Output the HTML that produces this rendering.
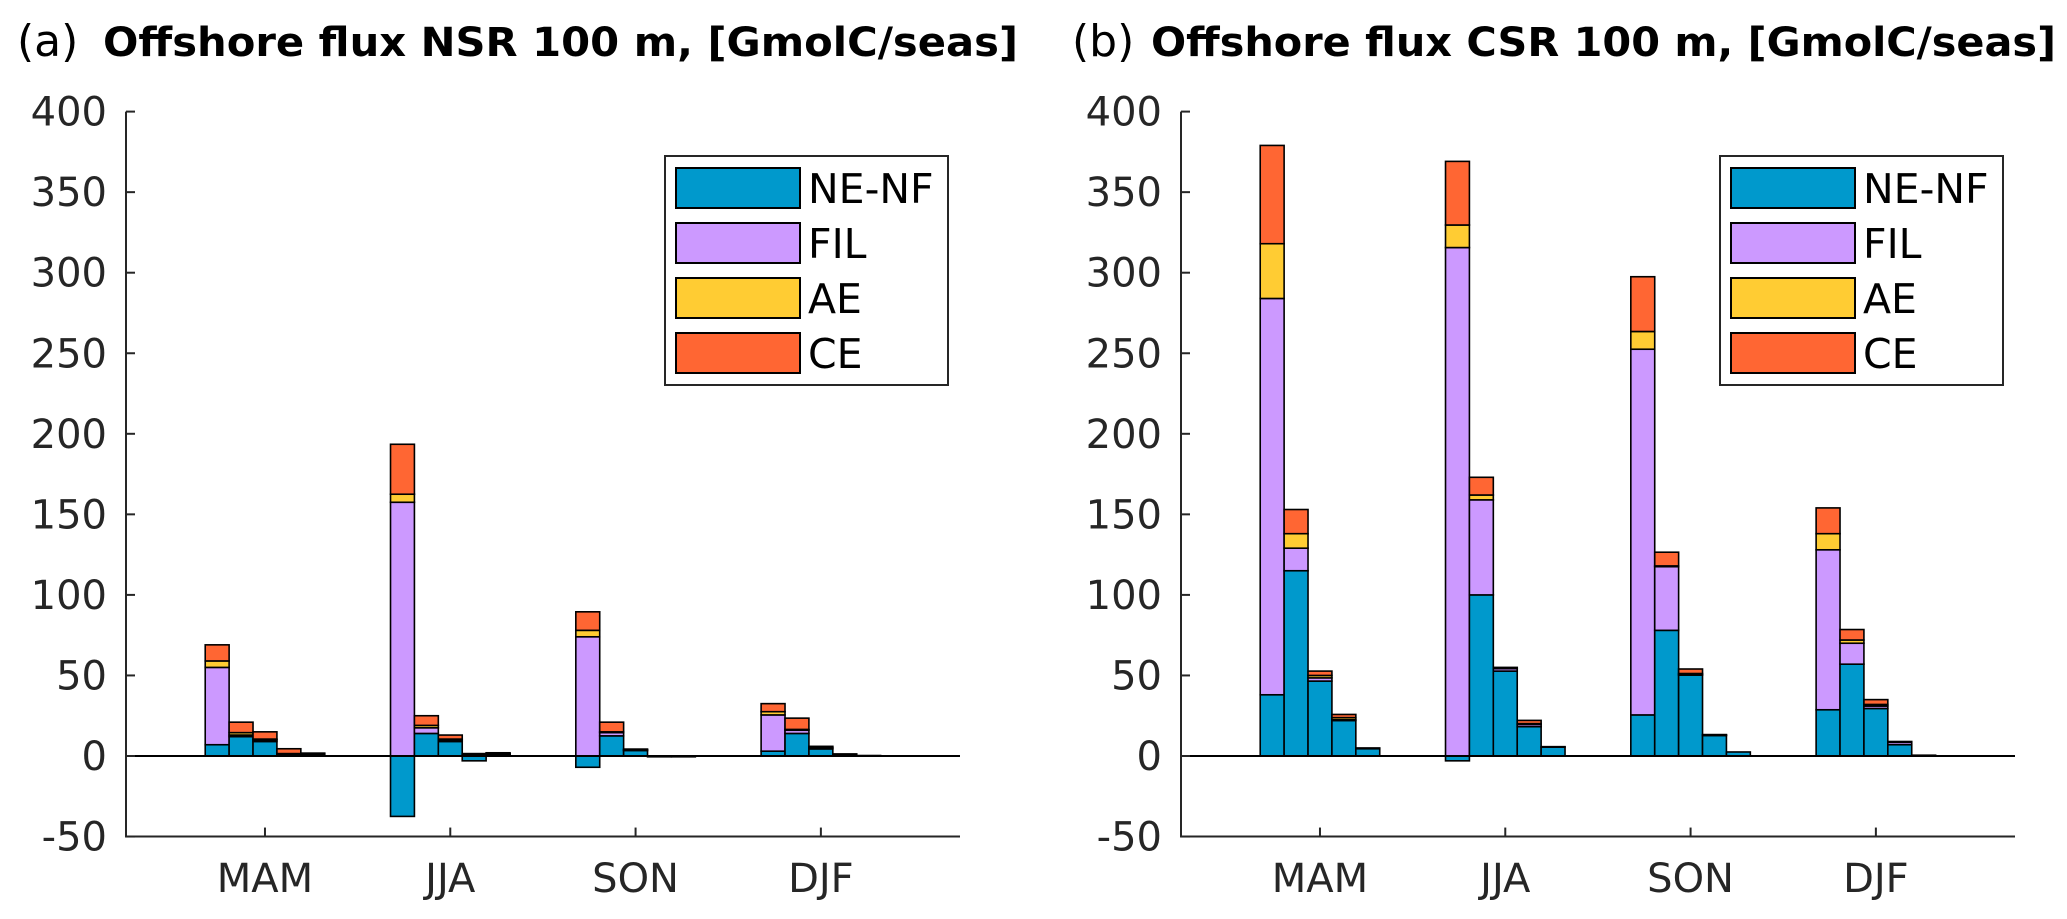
<!DOCTYPE html>
<html><head><meta charset="utf-8"><style>
body{margin:0;background:#fff}
svg{display:block;font-family:"DejaVu Sans","Liberation Sans",sans-serif}
</style></head><body>
<svg id="chart" width="2067" height="919" viewBox="0 0 2067 919" xmlns="http://www.w3.org/2000/svg"></svg>
<script>
const categories = ["MAM","JJA","SON","DJF"];
const seriesNames = ["NE-NF","FIL","AE","CE"];
const yTicks = [400,350,300,250,200,150,100,50,0,-50];
// panel a (NSR): per season, 5 bars, each [NE-NF, FIL, AE, CE]
const nsrMAM = [[7,48,4,10],[12,1,1.5,6.5],[9,1,0.5,4.5],[1,0,0.5,3],[1,0.3,0.2,0.3]];
const nsrJJA = [[-37.5,157.5,5,31],[14,3.5,1.5,6],[9,1,0.5,2.5],[-3,0.5,0.2,0.8],[1,0.3,0.2,0.5]];
const nsrSON = [[-7,74,4,11.5],[12.5,2,0.5,6],[3.5,0.2,0.1,0.5],[-0.5,0,0,0],[-0.5,0,0,0]];
const nsrDJF = [[3,22.5,2,5],[14,2,0.5,7],[4.4,0.5,0.5,0.6],[1,0,0,0.3],[0.3,0,0,0]];
// panel b (CSR)
const csrMAM = [[38,246,34,61],[115,14,9,15],[46.5,2,1.5,2.7],[22,0.5,1.3,2],[4.5,0.5,0,0]];
const csrJJA = [[-3,315.6,14,39.5],[100,59,3,11],[52.7,1.5,0.3,0.5],[18.2,1.4,0.5,2],[5.5,0.3,0,0]];
const csrSON = [[25.5,227,11,34],[78,39.5,0.5,8.5],[50.2,0.5,0.5,2.8],[12.7,0.3,0,0.3],[2.5,0,0,0]];
const csrDJF = [[28.7,99.3,10,16],[57,13,2,6.5],[29.5,1.5,1,3],[7,1.5,0,0.5],[0.5,0,0,0]];
const colors = ["#0099cc","#cc99ff","#ffcc33","#ff6633"];

const NS="http://www.w3.org/2000/svg";
const svg=document.getElementById('chart');
function mk(tag,attrs,parent){const e=document.createElementNS(NS,tag);for(const k in attrs)e.setAttribute(k,attrs[k]);(parent||svg).appendChild(e);return e;}

function panel(key,ox,letter,title,data,tStart,tLen){
  const g=mk('g',{});
  
  
  const L=126+ox,R=960+ox;
  const yv=v=>756-v*1.611;
  const xv=c=>L+(c-0.25)*185.3;
  const bw=0.129*185.3;
  const t1=mk('text',{x:17+ox,y:56,'font-size':44,fill:'#000'},g);t1.textContent='('+letter+')';
  
  
  const t2=mk('text',{x:tStart,y:56,'font-size':40,'font-weight':'bold',fill:'#000',textLength:tLen,lengthAdjust:'spacingAndGlyphs'},g);t2.textContent=title;
  
  
  data.forEach((grp,ci)=>{
    grp.forEach((vals,bi)=>{
      const cx=xv(ci+1)+(bi-2)*bw;
      let pos=0,neg=0;
      vals.forEach((v,si)=>{
        if(v===0)return;
        let a,b;
        if(v>0){a=pos;b=pos+v;pos=b;}else{a=neg;b=neg+v;neg=b;}
        const y1=yv(Math.max(a,b)),y2=yv(Math.min(a,b));
        const r=mk('rect',{x:cx-bw/2,y:y1,width:bw,height:Math.max(y2-y1,0.5),fill:colors[si],stroke:'#000','stroke-width':1.6},g);
        
        
      });
    });
  });
  const z=mk('line',{x1:L,x2:R,y1:yv(0),y2:yv(0),stroke:'#000','stroke-width':2},g);
  
  
  const ax=mk('path',{d:`M${L} ${yv(400)}V${yv(-50)}H${R}`,fill:'none',stroke:'#262626','stroke-width':2},g);
  
  
  yTicks.forEach(v=>{
    mk('line',{x1:L,x2:L+9,y1:yv(v),y2:yv(v),stroke:'#262626','stroke-width':2},g);
    const tl=mk('text',{x:L-19,y:yv(v)+14,'font-size':40,'text-anchor':'end',fill:'#262626'},g);tl.textContent=v;
    
    
  });
  categories.forEach((c,i)=>{
    mk('line',{x1:xv(i+1),x2:xv(i+1),y1:yv(-50),y2:yv(-50)-9,stroke:'#262626','stroke-width':2},g);
    const tl=mk('text',{x:xv(i+1),y:892,'font-size':40,'text-anchor':'middle',fill:'#262626'},g);tl.textContent=c;
    
    
  });
  const lg=mk('g',{},g);
  
  
  mk('rect',{x:665+ox,y:156,width:283,height:229,fill:'#fff',stroke:'#262626','stroke-width':2},lg);
  seriesNames.forEach((n,i)=>{
    const cy=188+i*55;
    const p=mk('rect',{x:676+ox,y:cy-20,width:124,height:40,fill:colors[i],stroke:'#000','stroke-width':2},lg);
    
    
    const tx=mk('text',{x:808+ox,y:cy+15,'font-size':41,fill:'#000'},lg);tx.textContent=n;
    
    
  });
}
panel('nsr',0,'a','Offshore flux NSR  100 m, [GmolC/seas]',[nsrMAM,nsrJJA,nsrSON,nsrDJF],103,915);
panel('csr',1055,'b','Offshore flux CSR  100 m, [GmolC/seas]',[csrMAM,csrJJA,csrSON,csrDJF],1151,905);
</script>
</body></html>
